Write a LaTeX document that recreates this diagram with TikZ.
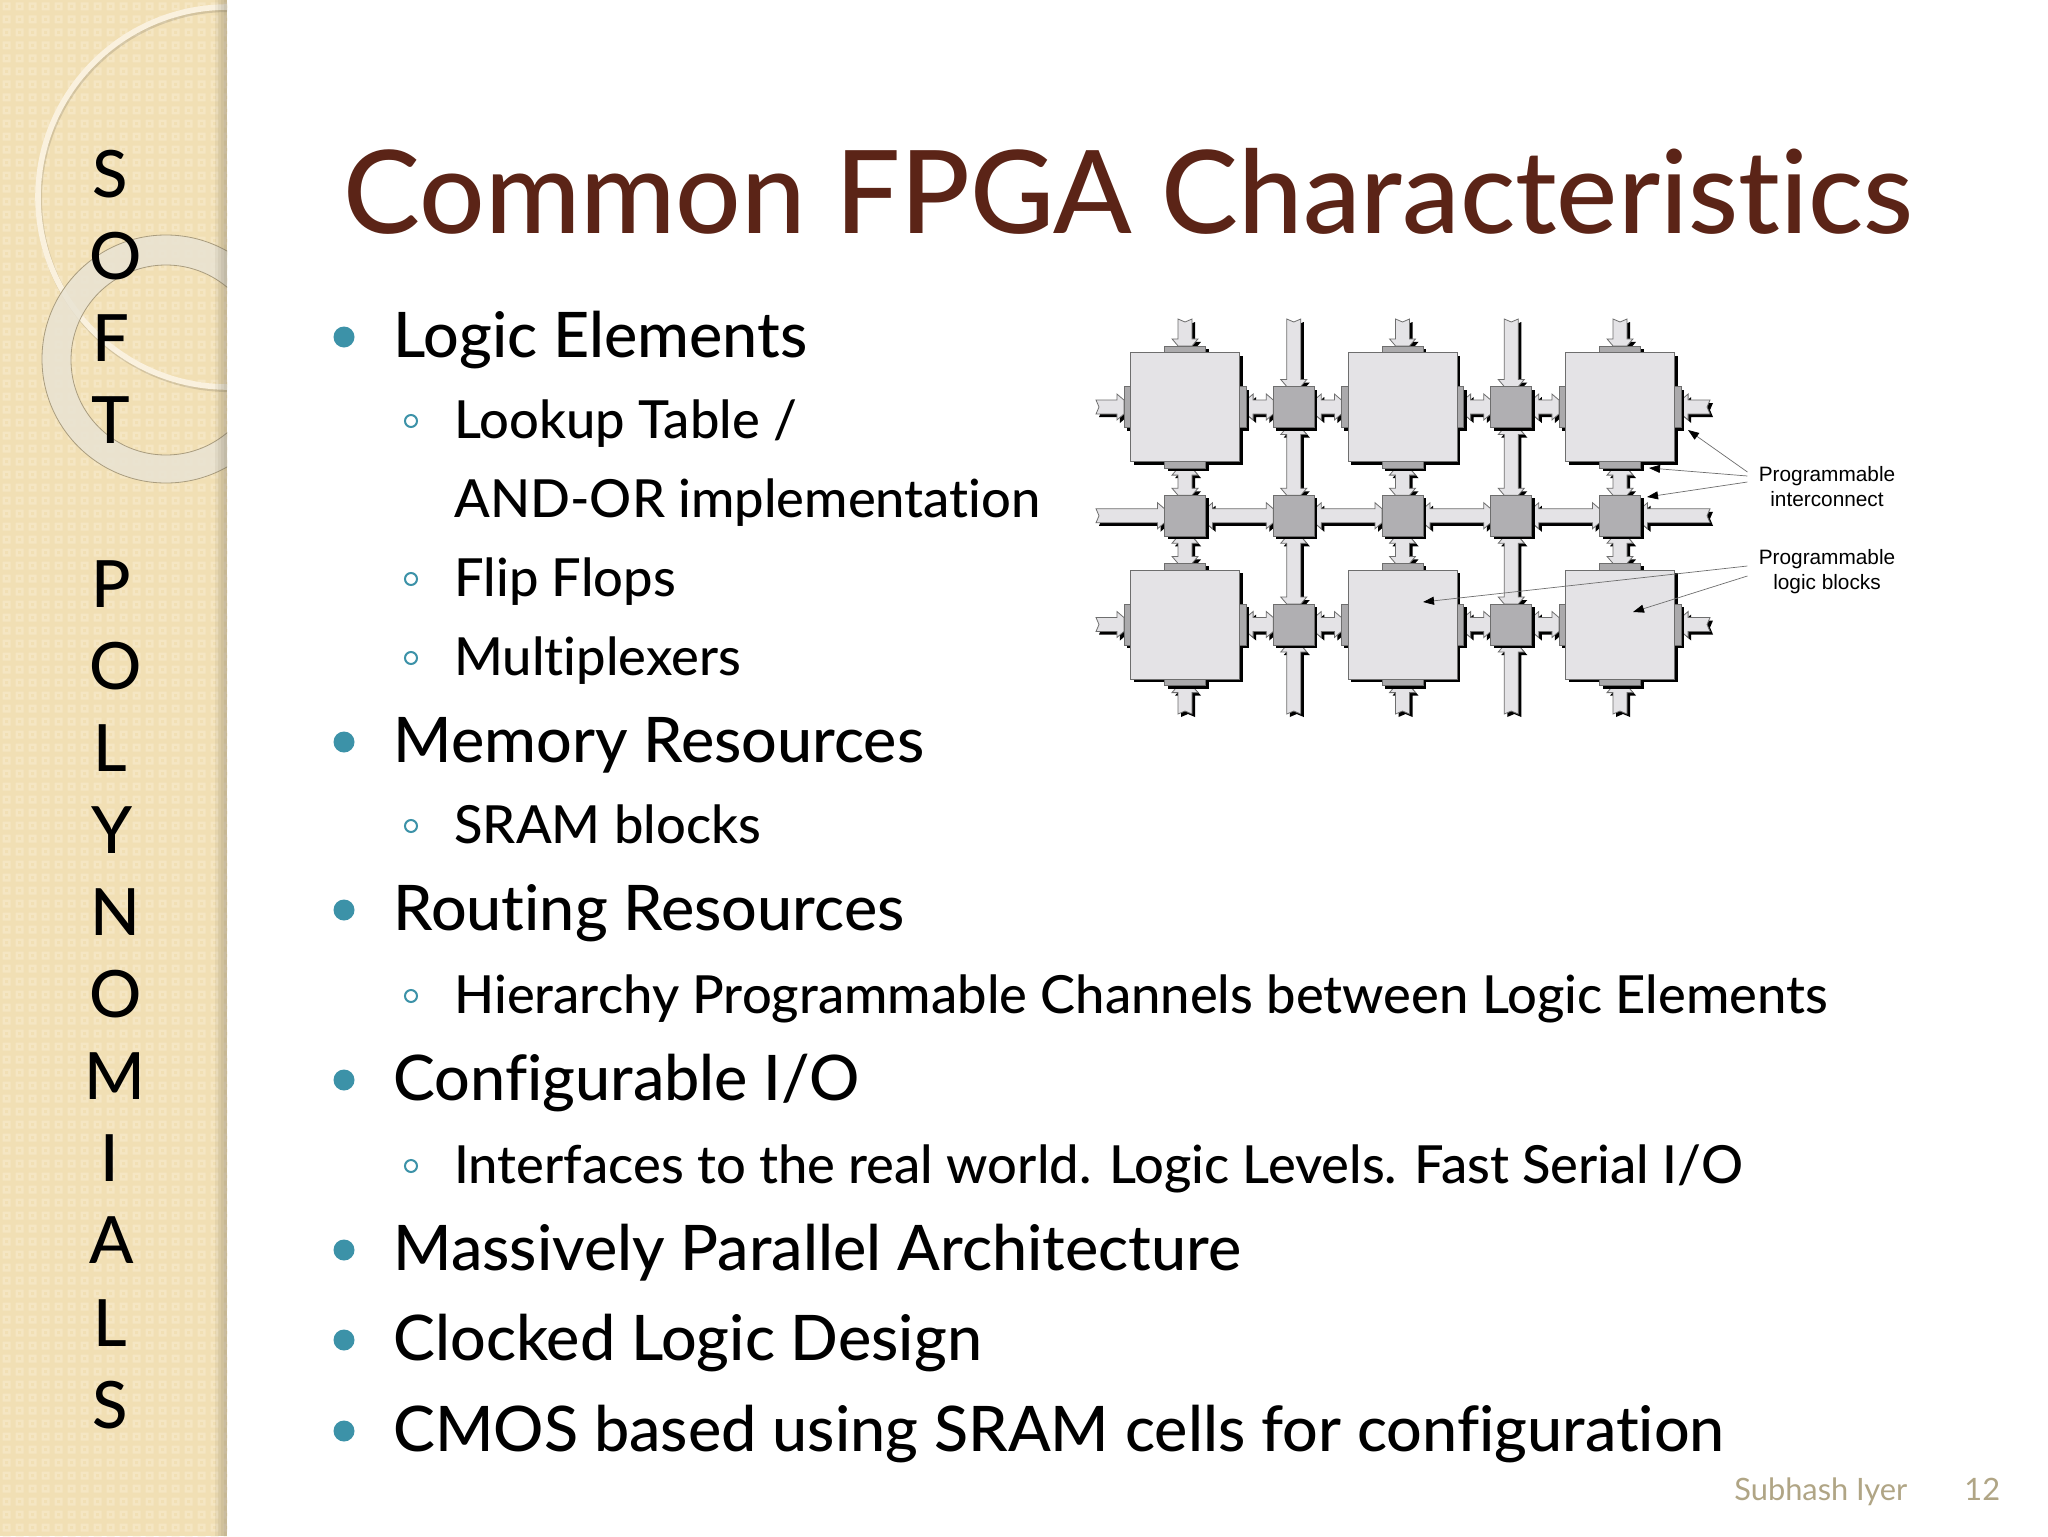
\documentclass[tikz,border=0pt]{standalone}
\usepackage{fontspec}
\setmainfont{Lato Medium}[Ligatures=NoCommon]
\newfontfamily\footfont{Lato}[Ligatures=NoCommon]
\newfontfamily\labelfont{Liberation Sans}
\usetikzlibrary{calc,positioning,shadows,arrows.meta}
\pgfdeclarelayer{bg}
\pgfdeclarelayer{wires}
\pgfdeclarelayer{pads}
\pgfsetlayers{bg,wires,pads,main}
\definecolor{barbase}{HTML}{F1DFB4}
\definecolor{barlight}{HTML}{F5E6C3}
\definecolor{ringcol}{HTML}{E9E3D3}
\definecolor{titlecol}{HTML}{5B2417}
\definecolor{tealcol}{HTML}{3C92A8}
\definecolor{footcol}{HTML}{B0A585}
\definecolor{blockfill}{HTML}{E4E3E6}
\definecolor{switchfill}{HTML}{B0AFB2}
\definecolor{padfill}{HTML}{ABAAAC}
\definecolor{edgecol}{HTML}{6E6E6E}
\tikzset{
  hardshadow/.style={drop shadow={shadow xshift=1.5pt,shadow yshift=-1.5pt,opacity=1,fill=black}},
  blockbox/.style={draw=edgecol,line width=.5pt,fill=blockfill,minimum size=54.5pt,inner sep=0pt,outer sep=0pt,hardshadow},
  swbox/.style={draw=edgecol,line width=.5pt,fill=switchfill,minimum size=20.5pt,inner sep=0pt,outer sep=0pt,hardshadow},
  padh/.style={draw=edgecol,line width=.4pt,fill=padfill,minimum width=20.5pt,minimum height=3.3pt,inner sep=0pt,outer sep=0pt,hardshadow},
  padv/.style={draw=edgecol,line width=.4pt,fill=padfill,minimum width=3.3pt,minimum height=20.5pt,inner sep=0pt,outer sep=0pt,hardshadow},
  wire/.style={draw=edgecol,line width=.4pt,fill=blockfill,hardshadow,to path={
    let \p1=($(\tikztostart)!3.5pt!(\tikztotarget)$),\p2=($(\tikztotarget)!3.5pt!(\tikztostart)$) in
    -- ($(\tikztostart)!3.5pt!90:(\tikztotarget)$)
    -- ($(\p1)!6.5pt!90:(\tikztotarget)$) -- ($(\p1)!3.5pt!90:(\tikztotarget)$)
    -- ($(\p2)!3.5pt!-90:(\tikztostart)$) -- ($(\p2)!6.5pt!-90:(\tikztostart)$)
    -- ($(\tikztotarget)!3.5pt!-90:(\tikztostart)$) -- ($(\tikztotarget)!3.5pt!90:(\tikztostart)$)
    -- ($(\p2)!6.5pt!90:(\tikztostart)$) -- ($(\p2)!3.5pt!90:(\tikztostart)$)
    -- ($(\p1)!3.5pt!-90:(\tikztotarget)$) -- ($(\p1)!6.5pt!-90:(\tikztotarget)$)
    -- ($(\tikztostart)!3.5pt!-90:(\tikztotarget)$) -- cycle}},
  wirefree/.style={draw=edgecol,line width=.4pt,fill=blockfill,hardshadow,to path={
    let \p1=($(\tikztostart)!-1.5pt!(\tikztotarget)$),\p2=($(\tikztotarget)!3.5pt!(\tikztostart)$) in
    -- ($(\p1)!3.5pt!90:(\tikztotarget)$)
    -- ($(\p2)!3.5pt!-90:(\tikztostart)$) -- ($(\p2)!6.5pt!-90:(\tikztostart)$)
    -- ($(\tikztotarget)!3.5pt!-90:(\tikztostart)$) -- ($(\tikztotarget)!3.5pt!90:(\tikztostart)$)
    -- ($(\p2)!6.5pt!90:(\tikztostart)$) -- ($(\p2)!3.5pt!90:(\tikztostart)$)
    -- ($(\p1)!3.5pt!-90:(\tikztotarget)$) -- cycle}},
  note/.style={draw=edgecol,line width=.35pt,-{Triangle[length=5.5pt,width=4pt,black,fill=black]}},
  notelabel/.style={font=\labelfont\fontsize{10.4}{12.5}\selectfont,align=center,inner sep=5.5pt},
  mainitem/.style={anchor=base west,inner sep=0pt,font=\fontsize{31.4}{31.4}\selectfont},
  subitem/.style={anchor=base west,inner sep=0pt,font=\fontsize{26.25}{26.25}\selectfont},
  mainbul/.style={circle,fill=tealcol,minimum size=10.5pt,inner sep=0pt},
  subbul/.style={circle,draw=tealcol,line width=1pt,minimum size=6pt,inner sep=0pt},
  sideletter/.style={anchor=base,inner sep=0pt,font=\fontsize{32.6}{32.6}\selectfont},
  footnum/.style={anchor=base west,inner sep=0pt,text=footcol,font=\footfont\fontsize{15.4}{15.4}\selectfont},
}
\begin{document}
\begin{tikzpicture}[x=0.5pt,y=-0.5pt]
\useasboundingbox (0,0) rectangle (2048,1536);

% side bar
\begin{pgfonlayer}{bg}
  \fill[white] (0,0) rectangle (2048,1536);
  \begin{scope}
    \clip (0,0) rectangle (227,1536);
    \fill[barbase] (0,0) rectangle (227,1536);
    \fill[barlight] \foreach \i in {0,...,17} {\foreach \j in {0,...,118} {(13*\i+2.5,13*\j+2.5) rectangle +(8,8)}};
    \fill[barbase] \foreach \i in {0,...,17} {\foreach \j in {0,...,118} {(13*\i+5,13*\j+5) rectangle +(3,3)}};
    \fill[white,opacity=.4] (0,0) -- (183,0) arc[start angle=0,end angle=-90,radius=183] -- cycle;
    \draw[black,opacity=.12,line width=3pt] (229,199) circle[radius=190];
    \draw[color=barlight!55!white,line width=2.8pt] (228,197) circle[radius=190];
    \fill[ringcol,opacity=.85,even odd rule] (166,359) circle[radius=124] (166,360) circle[radius=95];
    \draw[barbase!70!black,line width=.4pt] (166,359) circle[radius=124] (166,360) circle[radius=95];
    \foreach \w/\a in {3/.08,6/.08,9/.08,12/.08}
      \fill[black!60!barbase,opacity=\a] (227-\w,0) rectangle (227,1536);
  \end{scope}
\end{pgfonlayer}

\foreach \ltr/\i/\xc in {S/0/110,O/1/116,F/2/111,T/3/111,P/5/111,O/6/116,L/7/110,Y/8/112,N/9/115,O/10/116,M/11/115,I/12/110,A/13/112,L/14/110,S/15/110}
  \node[sideletter] (ltr\i) at (\xc,{197+82.07*\i}) {\ltr};

\node[anchor=base west,inner sep=0pt,text=titlecol,font=\fontsize{57.7}{57.7}\selectfont] (title) at (343,233) {Common FPGA Characteristics};

% bullets
\foreach \yb/\t in {357/Logic Elements,762/Memory Resources,930/Routing Resources,{1100}/{Configurable I/O},1270/Massively Parallel Architecture,1360/Clocked Logic Design,1451/CMOS based using SRAM cells for configuration} {
  \node[mainitem] (item\yb) at (393,\yb) {\t};
  \node[mainbul] (bul\yb) at (344,\yb-20) {};
}
\foreach \yb/\t in {438/{Lookup Table /},596/Flip Flops,675/Multiplexers,843/SRAM blocks,1013/Hierarchy Programmable Channels between Logic Elements,1183/{Interfaces to the real world. Logic Levels. Fast Serial I/O}} {
  \node[subitem] (subitem\yb) at (454,\yb) {\t};
  \node[subbul] (subbul\yb) at (411,\yb-17) {};
}
\node[subitem] (subitem517) at (454,517) {AND-OR implementation};

% logic blocks
\foreach \c/\r in {0/0,2/0,4/0,0/2,2/2,4/2} {
  \node[blockbox] (blk\c\r) at ({1185+108.75*\c},{407+108.75*\r}) {};
  \begin{pgfonlayer}{pads}
    \node[padh,above=0pt of blk\c\r.north] (blk\c\r-n) {};
    \node[padv,left=0pt of blk\c\r.west] (blk\c\r-w) {};
  \end{pgfonlayer}
  \node[padh,below=0pt of blk\c\r.south] (blk\c\r-s) {};
  \node[padv,right=0pt of blk\c\r.east] (blk\c\r-e) {};
}
% switches
\foreach \c/\r in {1/0,3/0,0/1,1/1,2/1,3/1,4/1,1/2,3/2}
  \node[swbox] (sw\c\r) at ({1185+108.75*\c},{407+108.75*\r}) {};

% free ends
\foreach \c in {0,1,2,3,4} {
  \coordinate (top\c) at ({1185+108.75*\c},322);
  \coordinate (bot\c) at ({1185+108.75*\c},711);
}
\foreach \r in {0,1,2} {
  \coordinate (lft\r) at (1099,{407+108.75*\r});
  \coordinate (rgt\r) at (1707,{407+108.75*\r});
}

% interconnect
\begin{pgfonlayer}{wires}
  \foreach \c in {0,2,4} {
    \draw[wirefree] (top\c) to (blk\c0-n.north);
    \draw[wirefree] (bot\c) to (blk\c2-s.south);
    \draw[wire] (blk\c0-s.south) to (sw\c1.north);
    \draw[wire] (sw\c1.south) to (blk\c2-n.north);
  }
  \foreach \c in {1,3} {
    \draw[wirefree] (top\c) to (sw\c0.north);
    \draw[wirefree] (bot\c) to (sw\c2.south);
    \draw[wire] (sw\c0.south) to (sw\c1.north);
    \draw[wire] (sw\c1.south) to (sw\c2.north);
  }
  \foreach \r in {0,2} {
    \draw[wirefree] (lft\r) to (blk0\r-w.west);
    \draw[wirefree] (rgt\r) to (blk4\r-e.east);
    \draw[wire] (blk0\r-e.east) to (sw1\r.west);
    \draw[wire] (sw1\r.east) to (blk2\r-w.west);
    \draw[wire] (blk2\r-e.east) to (sw3\r.west);
    \draw[wire] (sw3\r.east) to (blk4\r-w.west);
  }
  \draw[wirefree] (lft1) to (sw01.west);
  \draw[wirefree] (rgt1) to (sw41.east);
  \draw[wire] (sw01.east) to (sw11.west);
  \draw[wire] (sw11.east) to (sw21.west);
  \draw[wire] (sw21.east) to (sw31.west);
  \draw[wire] (sw31.east) to (sw41.west);
\end{pgfonlayer}

% labels
\node[notelabel] (lblic) at (1827,487) {Programmable\\interconnect};
\node[notelabel] (lblpl) at (1827,572) {Programmable\\logic blocks};
\coordinate (icend) at (1688,430);
\coordinate (padend) at (1649,468);
\coordinate (swend) at (1647,497);
\coordinate (blkend) at (1423,602);
\coordinate (blktwo) at (1633,612);
\draw[note] ([yshift=7.5pt]lblic.west) -- (icend);
\draw[note] ([yshift=5.5pt]lblic.west) -- (padend);
\draw[note] ([yshift=2.5pt]lblic.west) -- (swend);
\draw[note] ([yshift=3pt]lblpl.west) -- (blkend);
\draw[note] ([yshift=-2pt]lblpl.west) -- (blktwo);

% footer
\node[footnum] (foot) at (1734,1500) {Subhash Iyer};
\node[footnum] (pageno) at (1964,1500) {12};
\end{tikzpicture}
\end{document}
